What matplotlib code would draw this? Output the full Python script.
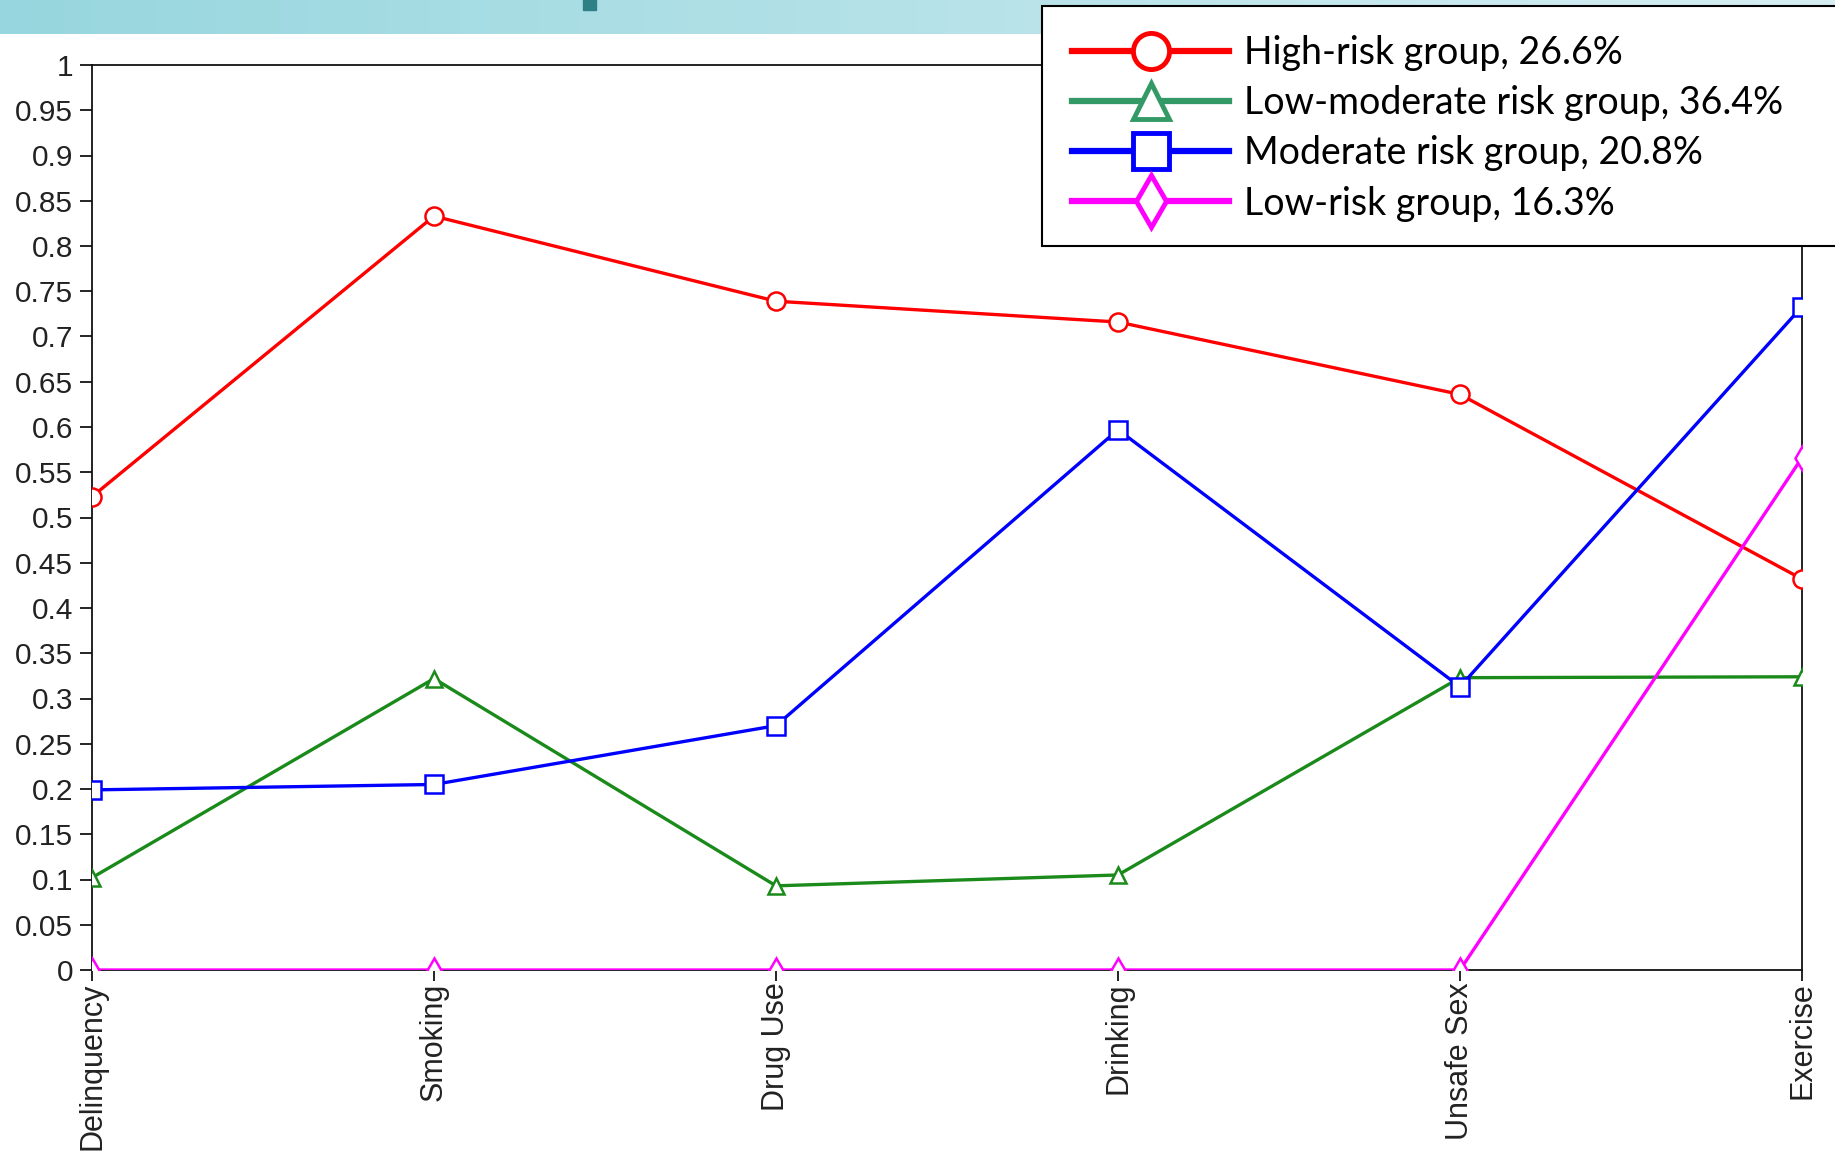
import numpy as np
import matplotlib
matplotlib.use("Agg")
import matplotlib.pyplot as plt
from matplotlib.lines import Line2D
from matplotlib.patches import Rectangle
from matplotlib.colors import LinearSegmentedColormap

# behaviours on the x axis
categories = ["Delinquency", "Smoking", "Drug Use", "Drinking", "Unsafe Sex", "Exercise"]

# probability of each behaviour per latent class
high_risk = [0.523, 0.833, 0.739, 0.716, 0.636, 0.432]
low_moderate = [0.102, 0.322, 0.093, 0.105, 0.323, 0.324]
moderate = [0.199, 0.205, 0.270, 0.597, 0.313, 0.733]
low_risk = [0.0, 0.0, 0.0, 0.0, 0.0, 0.566]

labels = ["High-risk group, 26.6%", "Low-moderate risk group, 36.4%",
          "Moderate risk group, 20.8%", "Low-risk group, 16.3%"]
yticks = np.arange(0, 1.0001, 0.05)
ytick_labels = ["0"] + ["%g" % round(v, 2) for v in yticks[1:]]

W, H = 1835, 1162
fig = plt.figure(figsize=(W / 100, H / 100), dpi=100)
fig.patch.set_facecolor("white")

# teal header band from the slide
band = fig.add_axes([0, 1 - 34 / H, 1, 34 / H])
grad = np.linspace(0, 1, 256).reshape(1, -1)
cmap = LinearSegmentedColormap.from_list("band", ["#97d6de", "#b5e2e8", "#d6eef2"])
band.imshow(grad, aspect="auto", cmap=cmap, extent=[0, 1, 0, 1])
band.add_patch(Rectangle((583 / W, 0.7), 13 / W, 0.3, color="#2e7f86"))
band.set_xlim(0, 1)
band.set_ylim(0, 1)
band.axis("off")

ax = fig.add_axes([92 / W, 1 - 970 / H, (1802 - 92) / W, (970 - 65) / H])
x = np.arange(len(categories))

series = [
    (high_risk, "#ff0000", "o", 13),
    (low_moderate, "#1a8a1a", "^", 12),
    (moderate, "#0000ff", "s", 13),
    (low_risk, "#ff00ff", "d", 12),
]
for vals, col, mk, ms in series:
    ax.plot(x, vals, color=col, lw=2.4, marker=mk, ms=ms, mfc="white",
            mec=col, mew=1.8, zorder=3)

ax.set_xlim(0, 5)
ax.set_ylim(0, 1)
ax.set_yticks(yticks)
ax.set_yticklabels(ytick_labels, fontsize=21.5, color="#222222", family="Liberation Sans")
ax.set_xticks(x)
ax.set_xticklabels(categories, rotation=90, fontsize=22, color="#222222",
                   family="Liberation Sans", va="top")
ax.tick_params(axis="y", direction="out", length=8.6, width=1.2, pad=5)
ax.tick_params(axis="x", direction="out", length=8, width=1.2, pad=1)
for s in ax.spines.values():
    s.set_linewidth(1.3)
    s.set_color("#111111")

# legend box (runs off the right edge of the slide)
fig.patches.append(Rectangle((1042 / W, 1 - 246 / H), (W - 1042 + 20) / W, 240 / H,
                             transform=fig.transFigure, facecolor="white",
                             edgecolor="black", lw=1.5, zorder=5))
leg_colors = ["#ff0000", "#339966", "#0000ff", "#ff00ff"]
leg_markers = ["o", "^", "s", "d"]
handles = [Line2D([0], [0], color=c, lw=4.5, marker=m, ms=26, mfc="white", mec=c, mew=3.5)
           for c, m in zip(leg_colors, leg_markers)]
leg = fig.legend(handles, labels, loc="upper left", bbox_to_anchor=(1038 / W, 1 - 1 / H),
                 frameon=False, handlelength=4.2, handletextpad=0.4,
                 labelspacing=0.38, prop={"family": "Lato", "size": 27})
leg.set_zorder(6)

fig.savefig("out.png", dpi=100)
